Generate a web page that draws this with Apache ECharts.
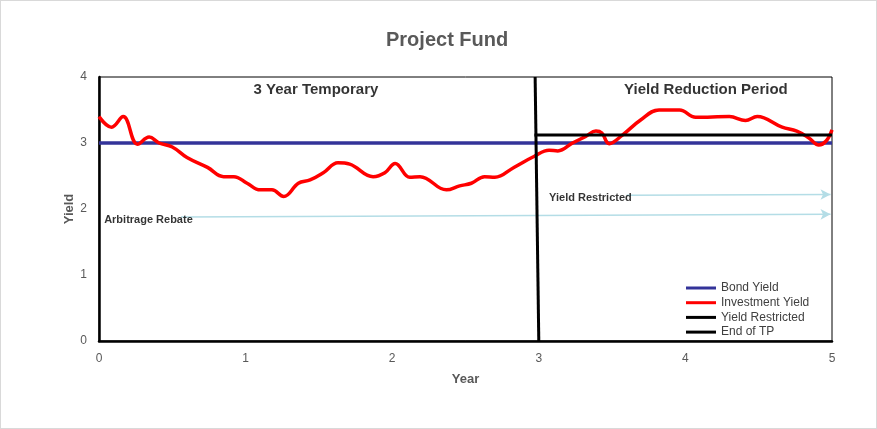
<!DOCTYPE html>
<html>
<head>
<meta charset="utf-8">
<script src="https://cdn.jsdelivr.net/npm/echarts@6/dist/echarts.min.js"></script>
<style>
  html, body { margin: 0; padding: 0; background: #fff; }
  #chart { width: 875px; height: 427px; border: 1px solid #d9d9d9; }
</style>
</head>
<body>
<div id="chart"></div>
<script>
// years / yields
var investYears = [0, 0.086, 0.165, 0.263, 0.342, 0.41, 0.5, 0.6, 0.74, 0.85, 0.92, 1.01, 1.1, 1.18, 1.26, 1.36, 1.44, 1.53, 1.63, 1.71, 1.87, 1.95, 2.02, 2.12, 2.19, 2.37, 2.46, 2.54, 2.63, 2.7, 2.83, 2.97, 3.07, 3.13, 3.23, 3.32, 3.39, 3.43, 3.48, 3.57, 3.69, 3.82, 3.96, 4.07, 4.3, 4.41, 4.49, 4.66, 4.76, 4.84, 4.91, 4.96, 5.0];
var investYield = [3.40, 3.24, 3.40, 2.98, 3.09, 3.0, 2.94, 2.78, 2.63, 2.49, 2.49, 2.39, 2.29, 2.29, 2.19, 2.39, 2.44, 2.55, 2.70, 2.68, 2.49, 2.55, 2.69, 2.48, 2.49, 2.29, 2.35, 2.39, 2.49, 2.48, 2.63, 2.80, 2.89, 2.88, 3.0, 3.10, 3.18, 3.15, 2.99, 3.12, 3.34, 3.50, 3.50, 3.39, 3.40, 3.34, 3.40, 3.24, 3.18, 3.08, 2.97, 3.03, 3.20];

var bondYield = [[0, 3], [5, 3]];
var yieldRestricted = [[2.97, 3.12], [5, 3.12]];
var endOfTP = [[2.975, 4], [3.0, 0]];

var rebateArrow = [[0.56, 1.88], [4.99, 1.92]];
var restrictedArrow = [[3.6, 2.21], [4.99, 2.22]];

var notes = [
  [1.48, 3.80, '3 Year Temporary', 'center', 15],
  [4.14, 3.80, 'Yield Reduction Period', 'center', 15],
  [0.035, 1.84, 'Arbitrage Rebate', 'left', 11],
  [3.07, 2.16, 'Yield Restricted', 'left', 11]
];

var xTicks = [0, 1, 2, 3, 4, 5];
var yTicks = [0, 1, 2, 3, 4];

var chart = echarts.init(document.getElementById('chart'));

var investData = investYears.map(function (x, i) { return [x, investYield[i]]; });
var arrowColor = '#b4dde6';

chart.setOption({
  animation: false,
  textStyle: { fontFamily: 'Liberation Sans, Arial, sans-serif' },
  title: {
    text: 'Project Fund',
    left: 380,
    top: 24,
    textStyle: { fontSize: 20, fontWeight: 'bold', color: '#595959' }
  },
  legend: {
    orient: 'vertical',
    left: 680,
    top: 275,
    itemWidth: 30,
    itemHeight: 3,
    itemGap: 0.7,
    icon: 'rect',
    textStyle: { fontSize: 12, color: '#404040', lineHeight: 14 },
    data: ['Bond Yield', 'Investment Yield', 'Yield Restricted', 'End of TP']
  },
  grid: {
    left: 98, right: 44, top: 76, bottom: 87,
    show: true, borderColor: '#000', borderWidth: 1
  },
  xAxis: {
    type: 'value', min: xTicks[0], max: xTicks[xTicks.length - 1], interval: 1,
    name: 'Year', nameLocation: 'middle', nameGap: 32,
    nameTextStyle: { fontSize: 13, fontWeight: 'bold', color: '#595959' },
    axisLine: { lineStyle: { color: '#000', width: 2.5 } },
    axisTick: { show: false },
    splitLine: { show: false },
    axisLabel: { color: '#595959', fontSize: 12, margin: 12 }
  },
  yAxis: {
    type: 'value', min: yTicks[0], max: yTicks[yTicks.length - 1], interval: 1,
    name: 'Yield', nameLocation: 'middle', nameGap: 23, nameMoveOverlap: false,
    nameTextStyle: { fontSize: 13, fontWeight: 'bold', color: '#595959' },
    axisLine: { show: true, lineStyle: { color: '#000', width: 2.5 } },
    axisTick: { show: false },
    splitLine: { show: false },
    axisLabel: { color: '#595959', fontSize: 12, margin: 12 }
  },
  series: [
    {
      name: 'Bond Yield', type: 'line', data: bondYield, symbol: 'none',
      lineStyle: { color: '#333399', width: 3.5 }, itemStyle: { color: '#333399' }, z: 3
    },
    {
      name: 'Investment Yield', type: 'line', data: investData, symbol: 'none', smooth: 0.4,
      lineStyle: { color: '#ff0000', width: 3.5 }, itemStyle: { color: '#ff0000' }, z: 4
    },
    {
      name: 'Yield Restricted', type: 'line', data: yieldRestricted, symbol: 'none',
      lineStyle: { color: '#000', width: 3 }, itemStyle: { color: '#000' }, z: 5
    },
    {
      name: 'End of TP', type: 'line', data: endOfTP, symbol: 'none',
      lineStyle: { color: '#000', width: 3 }, itemStyle: { color: '#000' }, z: 5
    },
    {
      type: 'line', data: [], silent: true,
      markLine: {
        silent: true, symbol: ['none', 'arrow'], symbolSize: [8, 10],
        lineStyle: { color: arrowColor, width: 1.5, type: 'solid' },
        label: { show: false },
        data: [
          [{ coord: rebateArrow[0] }, { coord: rebateArrow[1] }],
          [{ coord: restrictedArrow[0] }, { coord: restrictedArrow[1] }]
        ]
      }
    },
    {
      type: 'scatter', symbolSize: 0, silent: true, z: 6,
      data: notes.map(function (n) {
        return {
          value: [n[0], n[1]],
          label: {
            show: true, formatter: n[2], position: 'inside', align: n[3],
            fontSize: n[4], fontWeight: 'bold', color: '#000'
          }
        };
      })
    }
  ]
});
</script>
</body>
</html>
